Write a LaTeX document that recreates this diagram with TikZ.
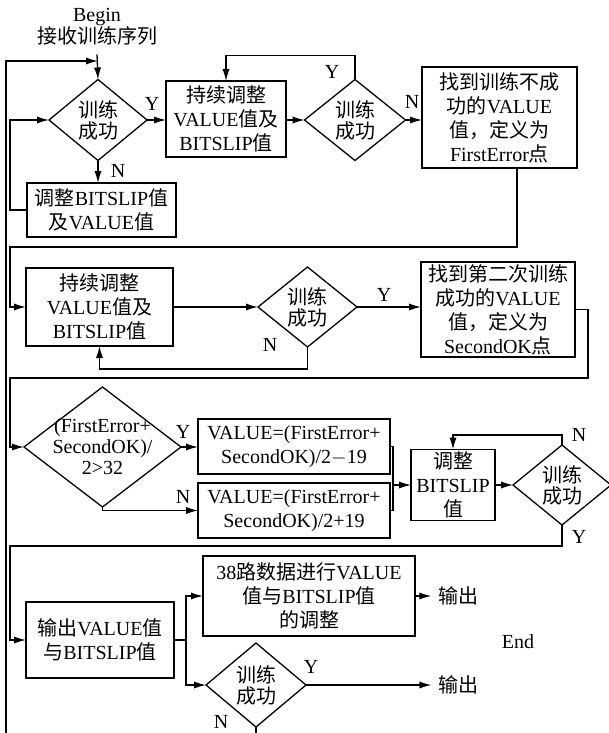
\documentclass[tikz,border=0pt]{standalone}
\usepackage{fontspec}
\setmainfont{Liberation Serif}
\newfontfamily\cjk{Noto Sans CJK SC}
\usetikzlibrary{shapes.geometric,arrows.meta}
\newcommand\zh[1]{{\cjk #1}}
\tikzset{every path/.style={line width=0.65pt},
  arr/.style={-{Latex[length=6pt,width=3.6pt]}},
  box/.style={draw, align=center, inner sep=1pt, outer sep=0pt, font=\fontsize{10}{12}\selectfont},
  decision/.style={draw, diamond, aspect=1.2, inner sep=-8pt, outer sep=0pt, align=center, font=\fontsize{10}{10.5}\selectfont},
  lbl/.style={inner sep=0pt, font=\fontsize{10}{11}\selectfont}}

\begin{document}
\begin{tikzpicture}[x=0.5pt,y=-0.5pt]
  \useasboundingbox (0,0) rectangle (609,733);
  % first row
  \node[lbl, align=center, outer ysep=4.5pt] (start) at (97,27) {Begin\\\zh{接收训练序列}};
  \node[decision, minimum width=49pt, minimum height=40.5pt] (d1) at (98,120) {\zh{训练}\\\zh{成功}};
  \node[box, minimum width=60pt, minimum height=38pt] (b2) at (226,119) {\zh{持续调整}\\VALUE\zh{值及}\\BITSLIP\zh{值}};
  \node[decision, minimum width=50.5pt, minimum height=40.5pt] (d2) at (355,120) {\zh{训练}\\\zh{成功}};
  \node[box, minimum width=77.5pt, minimum height=50.5pt] (b4) at (499.5,117.5) {\zh{找到训练不成}\\\zh{功的}VALUE\\\zh{值，定义为}\\FirstError\zh{点}};
  \node[box, minimum width=74.5pt, minimum height=27pt] (b3) at (101.5,210) {\zh{调整}BITSLIP\zh{值}\\\zh{及}VALUE\zh{值}};
  % second row
  \node[box, minimum width=73.5pt, minimum height=39pt] (b5) at (99.5,307) {\zh{持续调整}\\VALUE\zh{值及}\\BITSLIP\zh{值}};
  \node[decision, minimum width=49.5pt, minimum height=40pt] (d3) at (307.5,307) {\zh{训练}\\\zh{成功}};
  \node[box, minimum width=77pt, minimum height=47.5pt] (b6) at (498,309.5) {\zh{找到第二次训练}\\\zh{成功的}VALUE\\\zh{值，定义为}\\SecondOK\zh{点}};
  % third row
  \node[decision, minimum width=78.5pt, minimum height=60pt] (d4) at (102.5,447) {(FirstError+\\SecondOK)/\\2>32};
  \node[box, minimum width=96pt, minimum height=27.5pt] (b7) at (294,446.5) {VALUE=(FirstError+\\SecondOK)/2$-$19};
  \node[box, minimum width=96pt, minimum height=27.5pt] (b8) at (294,510.5) {VALUE=(FirstError+\\SecondOK)/2+19};
  \node[box, minimum width=42pt, minimum height=35.5pt] (b9) at (453,485) {\zh{调整}\\BITSLIP\\\zh{值}};
  \node[decision, minimum width=49pt, minimum height=40pt] (d5) at (562,485) {\zh{训练}\\\zh{成功}};
  % last row
  \node[box, minimum width=74pt, minimum height=38pt] (b10) at (100,640) {\zh{输出}VALUE\zh{值}\\\zh{与}BITSLIP\zh{值}};
  \node[box, minimum width=106pt, minimum height=40pt] (b11) at (309,596) {38\zh{路数据进行}VALUE\\\zh{值与}BITSLIP\zh{值}\\\zh{的调整}};
  \node[decision, minimum width=50pt, minimum height=42pt] (d6) at (256,685) {\zh{训练}\\\zh{成功}};
  \node[lbl, inner xsep=3pt] (out1) at (458,596) {\zh{输出}};
  \node[lbl, inner xsep=3pt] (out2) at (458,685) {\zh{输出}};
  \node[lbl] (endt) at (518,642) {End};

  % Y / N labels
  \node[lbl] (y1) at (152,104) {Y};
  \node[lbl] (n1) at (118,171) {N};
  \node[lbl] (y2) at (332,72) {Y};
  \node[lbl] (n2) at (412,102) {N};
  \node[lbl] (y3) at (384,295) {Y};
  \node[lbl] (n3) at (270,345) {N};
  \node[lbl] (y4) at (183,432) {Y};
  \node[lbl] (n4) at (183,497) {N};
  \node[lbl] (n5) at (579,435) {N};
  \node[lbl] (y5) at (579,537) {Y};
  \node[lbl] (y6) at (311,667) {Y};
  \node[lbl] (n6) at (221,722) {N};

  % corners of the long lines
  \coordinate (tj) at (98,61);
  \coordinate (tl) at (6,61);
  \coordinate (bl) at (6,748);
  \coordinate (k1) at (517,247);
  \coordinate (k1l) at (10,247);
  \coordinate (k2) at (588,378);
  \coordinate (k2l) at (10,378);
  \coordinate (k3l) at (10,546);
  \coordinate (br) at (393,485);
  \coordinate (sp) at (186,640);

  \draw[arr] (start.south) -- (d1.north);
  \draw[arr] (d6.south) |- (bl) -- (tl) -- (tj);
  \draw[arr] (d1.east) -- (d1.east -| b2.west);
  \draw[arr] (b2.east |- d2.west) -- (d2.west);
  \draw[arr] (d2.north) -- ++(0,-24) -| (b2.north);
  \draw[arr] (d2.east) -- (d2.east -| b4.west);
  \draw[arr] (d1.south) -- (d1.south |- b3.north);
  \draw[arr] (b3.west) -- ++(-17,0) |- (d1.west);
  \draw[arr] (b4.south -| k1) -- (k1) -- (k1l) |- (b5.west);

  \draw[arr] (b5.east) -- (d3.west);
  \draw[arr] (d3.south) -- ++(0,22) -| (b5.south);
  \draw[arr] (d3.east) -- (d3.east -| b6.west);
  \draw[arr] (b6.east) -| (k2) -- (k2l) |- (d4.west);

  \draw[arr] (d4.east) -- (d4.east -| b7.west);
  \draw[arr] (d4.south) |- (b8.west);
  \draw (b7.east) -| (br);
  \draw (b8.east) -| (br);
  \draw[arr] (br) -- (br -| b9.west);
  \draw[arr] (b9.east) -- (d5.west);
  \draw[arr] (d5.north) -- ++(0,-10) -| (b9.north);
  \draw[arr] (d5.south) |- (k3l) |- (b10.west);

  \draw (b10.east) -- (sp);
  \draw[arr] (sp) |- (b11.west);
  \draw[arr] (sp) |- (d6.west);
  \draw[arr] (b11.east) -- (out1.west);
  \draw[arr] (d6.east) -- (out2.west);
\end{tikzpicture}
\end{document}
